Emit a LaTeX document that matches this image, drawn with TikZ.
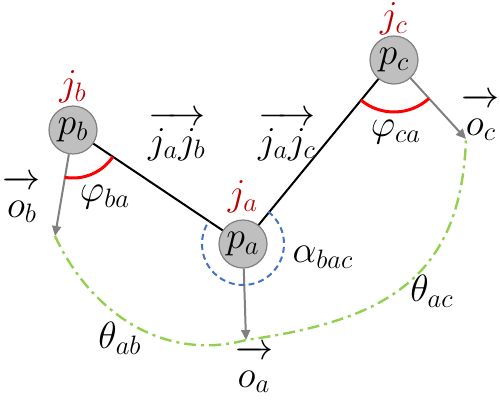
\RequirePackage{fix-cm}
\documentclass[tikz,border=0pt]{standalone}
\usepackage{amsmath}
\usepackage{xcolor}
\usetikzlibrary{arrows.meta, positioning}
\definecolor{jointfill}{RGB}{191,191,191}
\definecolor{jointgray}{RGB}{128,128,128}
\definecolor{jointred}{RGB}{192,0,0}
\definecolor{anglered}{RGB}{255,0,0}
\definecolor{reflexblue}{RGB}{68,114,196}
\definecolor{swinggreen}{RGB}{146,208,80}
\newcommand{\dirvec}[1]{$\overrightarrow{\rule{0pt}{14pt}#1}$}
\tikzset{
  joint/.style={
    circle, minimum size=24pt, inner sep=0pt,
    draw=jointgray, fill=jointfill, line width=0.6pt
  },
  jointname/.style={text=jointred, inner sep=0pt},
  vecname/.style={anchor=base, inner sep=1pt},
  link/.style={line width=1pt, black},
  orient/.style={-{Triangle[length=5pt,width=4.5pt]}, line width=1pt, color=jointgray},
  anglearc/.style={line width=1.5pt, color=anglered},
  reflexarc/.style={line width=1pt, dash pattern=on 3pt off 2pt, color=reflexblue},
  swingarc/.style={
    line width=1.2pt, color=swinggreen,
    dash pattern=on 6pt off 2.5pt on 1.5pt off 2.5pt
  }
}

\begin{document}
\begin{tikzpicture}[x=0.5pt, y=0.5pt, font=\fontsize{19}{23}\selectfont]
  \useasboundingbox (0,0) rectangle (500,-403);

  % joints
  \node[joint] (pb) at (73,-130)  {$p_b$};
  \node[joint] (pa) at (243,-244) {$p_a$};
  \node[joint] (pc) at (394,-60)  {$p_c$};
  \node[jointname, above=1pt of pb] (jb) {$j_b$};
  \node[jointname, above=3pt of pa] (ja) {$j_a$};
  \node[jointname, above=0pt of pc] (jc) {$j_c$};

  % links
  \draw[link] (pb) -- (pa);
  \draw[link] (pa) -- (pc);
  \node[vecname] (jajb) at (177,-153) {\dirvec{j_a j_b}};
  \node[vecname] (jajc) at (287,-153) {\dirvec{j_a j_c}};

  % orientations
  \coordinate (obtip) at (55,-236);
  \coordinate (oatip) at (246,-340);
  \coordinate (octip) at (466,-139);
  \draw[orient] (pb) -- (obtip);
  \draw[orient] (pa) -- (oatip);
  \draw[orient] (pc) -- (octip);
  \node[vecname] (ob) at (22,-217)  {\dirvec{o_b}};
  \node[vecname] (oa) at (254,-387) {\dirvec{o_a}};
  \node[vecname] (oc) at (481,-135) {\dirvec{o_c}};

  % angles
  \draw[anglearc] (pb.center) ++(-100:48) arc[start angle=-100, end angle=-34, radius=48];
  \draw[anglearc] (pc.center) ++(-129.4:52) arc[start angle=-129.4, end angle=-47.7, radius=52];
  \draw[reflexarc] (pa.center) ++(52:41) arc[start angle=52, end angle=-214, radius=41];
  \node (phiba) at (105,-197) {$\varphi_{ba}$};
  \node (phica) at (396,-132) {$\varphi_{ca}$};
  \node (alpha) at (323,-257) {$\alpha_{bac}$};

  % swing between orientations
  \draw[swingarc] (obtip) to[out=-65, in=-165] (oatip)
                          to[out=8, in=-92, looseness=1.2] (octip);
  \node (thab) at (120,-338) {$\theta_{ab}$};
  \node (thac) at (432,-291) {$\theta_{ac}$};
\end{tikzpicture}
\end{document}
